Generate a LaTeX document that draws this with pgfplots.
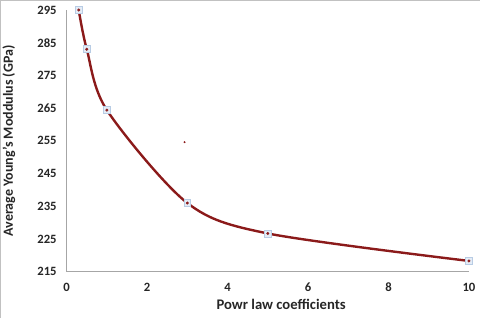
\documentclass[border=0pt]{standalone}
\usepackage{pgfplots}
\pgfplotsset{compat=1.18}
\usepackage{fontspec}
\setmainfont{Carlito}
\definecolor{curve}{HTML}{8B1A1A}
\definecolor{mfill}{HTML}{E4ECF6}
\definecolor{mdraw}{HTML}{B8CCE4}
\definecolor{axgray}{HTML}{A6A6A6}
\definecolor{txt}{HTML}{262626}
\begin{document}
\begin{tikzpicture}
\useasboundingbox (0pt,0pt) rectangle (360pt,238.5pt);
\draw[color=axgray!70,line width=0.8pt] (0.45pt,0pt) -- (0.45pt,238.05pt) -- (360pt,238.05pt);
\begin{axis}[
  at={(50.0pt,34.7pt)}, anchor=south west,
  scale only axis, width=301.7pt, height=196.3pt,
  xmin=0, xmax=10, ymin=215, ymax=295,
  axis x line=bottom, axis y line=left,
  axis line style={axgray,-,line width=0.6pt},
  xtick={0,2,4,6,8,10}, ytick={215,225,235,245,255,265,275,285,295},
  major tick length=0pt,
  tick label style={font=\bfseries\fontsize{9.5}{11}\selectfont, text=txt},
  /pgf/number format/assume math mode=true,
  xticklabel style={yshift=-5pt},
  yticklabel style={xshift=-4pt},
  xlabel={Powr law coefficients},
  ylabel={Average Young’s Moddulus (GPa)},
  label style={font=\bfseries\fontsize{10.5}{12}\selectfont, text=txt},
  xlabel style={at={(axis description cs:0.5,0)}, anchor=north, yshift=-17pt, xshift=10pt, font=\bfseries\fontsize{11}{13}\selectfont},
  ylabel style={at={(axis description cs:0,0.5)}, anchor=south, yshift=35pt},
  clip=false,
]
\addplot[curve, line width=1.8pt, smooth, tension=0.5, mark=square*, mark size=2.6pt,
  mark options={fill=mfill, draw=mdraw, line width=0.5pt}]
  coordinates {(0.3,295) (0.5,283) (1,264.4) (3,236) (5,226.7) (10,218.3)};
\addplot[only marks, mark=*, mark size=0.9pt, curve]
  coordinates {(0.3,295) (0.5,283) (1,264.4) (3,236) (5,226.7) (10,218.3)};
\addplot[only marks, mark=*, mark size=0.5pt, curve]
  coordinates {(2.93,254.6)};
\end{axis}
\end{tikzpicture}
\end{document}
